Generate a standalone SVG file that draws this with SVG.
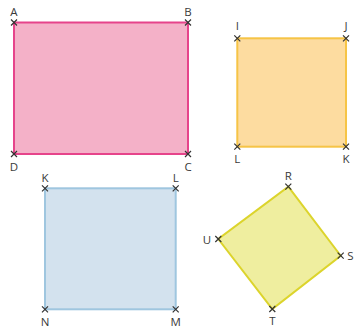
<svg xmlns="http://www.w3.org/2000/svg" width="356" height="328" viewBox="0 0 356 328">
<defs>
<style>
text{font-family:"Open Sans","Liberation Sans",sans-serif;font-size:11.5px;fill:#3a3a3a;text-anchor:middle;dominant-baseline:central}
.x{stroke:#333;stroke-width:1.2;fill:none}
.pink{fill:#f4b1c8;stroke:#e6448b;stroke-width:2}
.orange{fill:#fddca0;stroke:#f6c446;stroke-width:2}
.blue{fill:#d3e2ee;stroke:#9fc6df;stroke-width:2}
.yellow{fill:#efee9f;stroke:#dcd42c;stroke-width:2}
</style>
<path id="cross" class="x" d="M-3,-3L3,3M3,-3L-3,3"/>
</defs>
<g id="ABCD">
<rect class="pink" x="14" y="22.5" width="174" height="131.5"/>
<use href="#cross" x="14" y="22.5"/><use href="#cross" x="188" y="22.5"/><use href="#cross" x="188" y="154"/><use href="#cross" x="14" y="154"/>
<text x="14" y="11">A</text><text x="188" y="11">B</text><text x="188" y="166">C</text><text x="14" y="166">D</text>
</g>
<g id="IJKL">
<rect class="orange" x="237.3" y="38.3" width="108.7" height="108.4"/>
<use href="#cross" x="237.3" y="38.3"/><use href="#cross" x="346" y="38.3"/><use href="#cross" x="346" y="146.7"/><use href="#cross" x="237.3" y="146.7"/>
<text x="237.3" y="25.5">I</text><text x="346" y="25.5">J</text><text x="346" y="158.5">K</text><text x="237.3" y="158.5">L</text>
</g>
<g id="KLMN">
<rect class="blue" x="45" y="188.3" width="130.7" height="121"/>
<use href="#cross" x="45" y="188.3"/><use href="#cross" x="175.7" y="188.3"/><use href="#cross" x="175.7" y="309.3"/><use href="#cross" x="45" y="309.3"/>
<text x="45" y="177">K</text><text x="175.7" y="177">L</text><text x="175.7" y="321">M</text><text x="45" y="321">N</text>
</g>
<g id="RSTU">
<polygon class="yellow" points="288.3,186.7 340.7,255.7 272.3,309 218.3,239"/>
<use href="#cross" x="288.3" y="186.7"/><use href="#cross" x="340.7" y="255.7"/><use href="#cross" x="272.3" y="309"/><use href="#cross" x="218.3" y="239"/>
<text x="288.3" y="175">R</text><text x="350.5" y="255.7">S</text><text x="272.3" y="320.5">T</text><text x="207" y="239.5">U</text>
</g>
</svg>
